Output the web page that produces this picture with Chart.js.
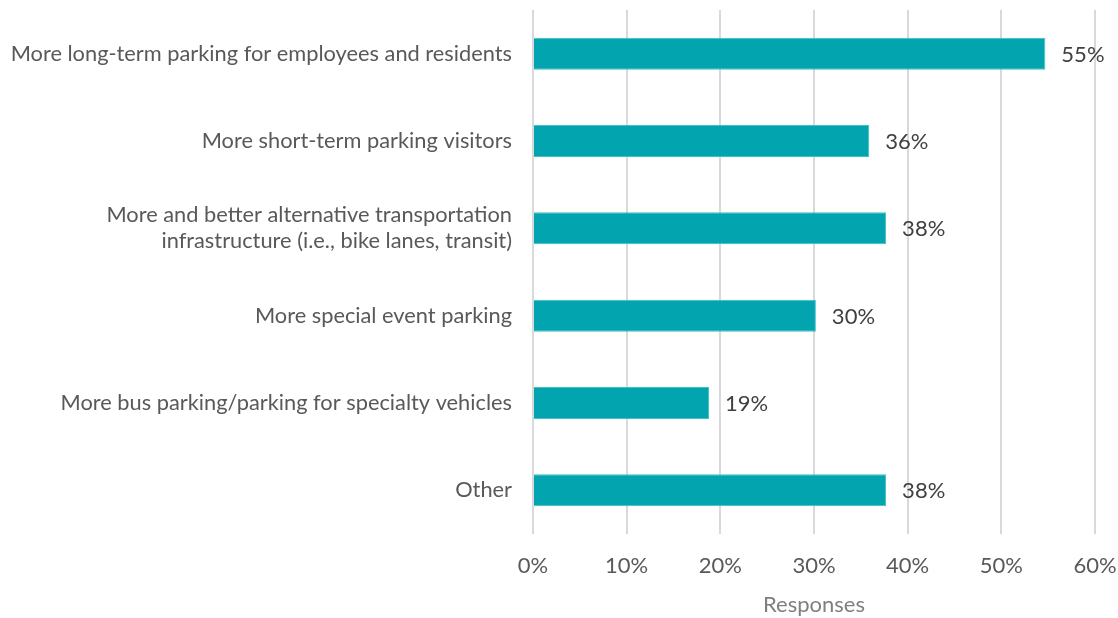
<!DOCTYPE html>
<html><head><meta charset="utf-8">
<script src="https://cdn.jsdelivr.net/npm/chart.js@4"></script>
<style>html,body{margin:0;padding:0;background:#fff}#wrap{width:1118px;height:618px}</style>
</head><body><div id="wrap"><canvas id="c" width="1118" height="618"></canvas></div>
<script>
const categories = [
  "More long-term parking for employees and residents",
  "More short-term parking visitors",
  ["More and better alternative transportation", "infrastructure (i.e., bike lanes, transit)"],
  "More special event parking",
  "More bus parking/parking for specialty vehicles",
  "Other"
];
const responses = [54.7, 35.9, 37.7, 30.2, 18.8, 37.7];
const valueLabels = ["55%", "36%", "38%", "30%", "19%", "38%"];
const xTicks = [0, 10, 20, 30, 40, 50, 60];
const axisTitle = "Responses";
const FONT = "Lato, 'Open Sans', sans-serif";

const valuePlugin = {
  id: 'valuePlugin',
  afterDatasetsDraw(chart) {
    const ctx = chart.ctx;
    const meta = chart.getDatasetMeta(0);
    ctx.save();
    ctx.font = "22px " + FONT;
    ctx.fillStyle = "#404040";
    ctx.textBaseline = "middle";
    ctx.textAlign = "left";
    meta.data.forEach((bar, i) => {
      ctx.fillText(valueLabels[i], bar.x + 16, bar.y + 1);
    });
    ctx.restore();
  }
};

new Chart(document.getElementById('c'), {
  type: 'bar',
  data: {
    labels: categories,
    datasets: [{
      data: responses,
      backgroundColor: '#02A5AF',
      borderColor: '#3FBFC6',
      borderWidth: 1,
      categoryPercentage: 1,
      barPercentage: 0.366
    }]
  },
  options: {
    indexAxis: 'y',
    responsive: false,
    animation: false,
    layout: { padding: { top: 10, right: 23, bottom: 0, left: 0 } },
    plugins: { legend: { display: false }, tooltip: { enabled: false } },
    scales: {
      x: {
        min: 0, max: 60,
        afterBuildTicks(scale) { scale.ticks = xTicks.map(v => ({ value: v })); },
        afterFit(scale) { scale.paddingLeft = 0; scale.paddingRight = 0; scale.height = 84; },
        ticks: {
          callback: v => v + "%",
          color: '#595959',
          font: { family: FONT, size: 22 },
          padding: 19
        },
        grid: { color: '#D9D9D9', lineWidth: 2, drawTicks: false },
        border: { display: false },
        title: {
          display: true, text: axisTitle, color: '#7F7F7F',
          font: { family: FONT, size: 22 }, padding: { top: 0, bottom: 0 }
        }
      },
      y: {
        afterFit(scale) { scale.width = 533; scale.paddingTop = 0; scale.paddingBottom = 0; },
        ticks: {
          color: '#595959',
          font: { family: FONT, size: 21.8 },
          padding: 21,
          autoSkip: false
        },
        grid: { display: false, drawTicks: false },
        border: { display: false }
      }
    }
  },
  plugins: [valuePlugin]
});
</script>
</body></html>
